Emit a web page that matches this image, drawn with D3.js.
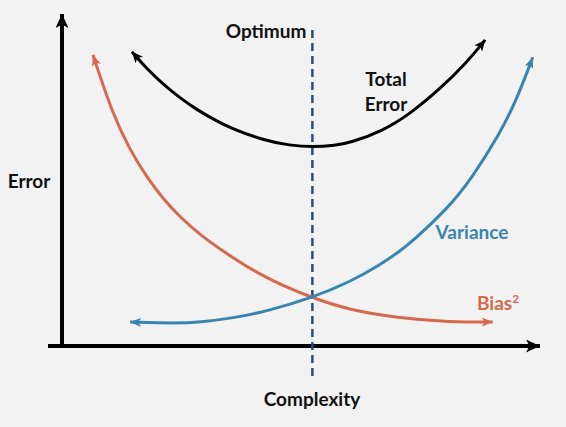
<!DOCTYPE html>
<html>
<head>
<meta charset="utf-8">
<script src="https://cdn.jsdelivr.net/npm/d3@7"></script>
<style>
  html, body { margin: 0; padding: 0; background: #f2f2f2; }
  svg { display: block; }
  text { font-family: Lato, "Open Sans", sans-serif; font-weight: bold; }
</style>
</head>
<body>
<script>
// Conceptual data (complexity on x, error on y, arbitrary units 0..10)
const totalX = [1.47, 1.79, 2.12, 2.48, 2.84, 3.21, 3.53, 4.22, 4.79, 5.27, 5.74, 6.05, 6.74, 7.31, 7.94, 8.51, 8.89];
const totalY = [8.86, 8.34, 7.89, 7.47, 7.11, 6.81, 6.57, 6.20, 6.04, 5.99, 6.04, 6.12, 6.48, 6.99, 7.74, 8.55, 9.22];
const biasX = [0.65, 1.07, 1.43, 1.79, 2.16, 2.48, 2.90, 3.59, 4.31, 5.25, 6.05, 7.10, 8.15, 9.05];
const biasY = [8.77, 6.96, 5.90, 5.06, 4.37, 3.89, 3.34, 2.65, 2.02, 1.45, 1.08, 0.84, 0.72, 0.72];
const varX = [1.43, 2.42, 2.90, 3.59, 4.31, 5.25, 6.05, 6.68, 7.10, 7.37, 8.09, 8.57, 9.20, 9.56, 9.89];
const varY = [0.72, 0.68, 0.72, 0.84, 1.05, 1.45, 1.93, 2.44, 2.86, 3.16, 4.13, 4.97, 6.39, 7.45, 8.70];
const optimumX = 5.26;
const labels = ["Optimum", "Total", "Error", "Variance", "Bias", "Error", "Complexity"];

const W = 566, H = 427;
const svg = d3.select("body").append("svg").attr("width", W).attr("height", H);
svg.append("rect").attr("width", W).attr("height", H).attr("fill", "#f2f2f2");

const x = d3.scaleLinear().domain([0, 10]).range([62, 538]);
const y = d3.scaleLinear().domain([0, 10]).range([346, 14]);

const defs = svg.append("defs");
function marker(id, color, len, wid) {
  defs.append("marker")
    .attr("id", id)
    .attr("viewBox", `0 ${-wid/2} ${len} ${wid}`)
    .attr("refX", len).attr("refY", 0)
    .attr("markerUnits", "userSpaceOnUse")
    .attr("markerWidth", len).attr("markerHeight", wid)
    .attr("orient", "auto-start-reverse")
    .append("path")
    .attr("d", `M0,${-wid/2}L${len},0L0,${wid/2}L${len*0.25},0Z`)
    .attr("fill", color);
}
const cBlack = "#000000", cRed = "#d4694e", cBlue = "#3a85b0", cDash = "#2c4c72";
marker("mBlack", cBlack, 11, 10);
marker("mRed", cRed, 11, 9);
marker("mBlue", cBlue, 11, 9);
marker("mAxis", cBlack, 14, 13);

// Axes
const xAxisY = y(0);
svg.append("line")
  .attr("x1", x(0) - 14).attr("y1", xAxisY).attr("x2", x(10) + 2).attr("y2", xAxisY)
  .attr("stroke", cBlack).attr("stroke-width", 4).attr("marker-end", "url(#mAxis)");
svg.append("line")
  .attr("x1", x(0)).attr("y1", xAxisY + 2).attr("x2", x(0)).attr("y2", y(10))
  .attr("stroke", cBlack).attr("stroke-width", 4).attr("marker-end", "url(#mAxis)");

// Optimum dashed line
svg.append("line")
  .attr("x1", x(optimumX)).attr("x2", x(optimumX))
  .attr("y1", 30).attr("y2", 377)
  .attr("stroke", cDash).attr("stroke-width", 2.5)
  .attr("stroke-dasharray", "8,5");

const line = d3.line().x(d => x(d[0])).y(d => y(d[1])).curve(d3.curveBasis);
function curve(xs, ys, color, mk) {
  svg.append("path")
    .datum(xs.map((v, i) => [v, ys[i]]))
    .attr("d", line)
    .attr("fill", "none")
    .attr("stroke", color).attr("stroke-width", 3)
    .attr("marker-start", `url(#${mk})`)
    .attr("marker-end", `url(#${mk})`);
}
curve(biasX, biasY, cRed, "mRed");
curve(varX, varY, cBlue, "mBlue");
curve(totalX, totalY, cBlack, "mBlack");

// Labels
const fs = 19;
svg.append("text").attr("x", 266).attr("y", 38).attr("text-anchor", "middle")
  .attr("font-size", fs).attr("fill", "#111").text(labels[0]);
svg.append("text").attr("x", 386).attr("y", 86).attr("text-anchor", "middle")
  .attr("font-size", fs).attr("fill", "#111").text(labels[1]);
svg.append("text").attr("x", 386).attr("y", 111).attr("text-anchor", "middle")
  .attr("font-size", fs).attr("fill", "#111").text(labels[2]);
svg.append("text").attr("x", 472).attr("y", 239).attr("text-anchor", "middle")
  .attr("font-size", fs).attr("fill", cBlue).text(labels[3]);
const b = svg.append("text").attr("x", 477).attr("y", 310)
  .attr("font-size", fs).attr("fill", cRed);
b.append("tspan").text(labels[4]);
b.append("tspan").attr("font-size", 12).attr("dy", -7).text("2");
svg.append("text").attr("x", 29).attr("y", 188).attr("text-anchor", "middle")
  .attr("font-size", fs).attr("fill", "#111").text(labels[5]);
svg.append("text").attr("x", 312).attr("y", 406).attr("text-anchor", "middle")
  .attr("font-size", fs).attr("fill", "#111").text(labels[6]);
</script>
</body>
</html>
